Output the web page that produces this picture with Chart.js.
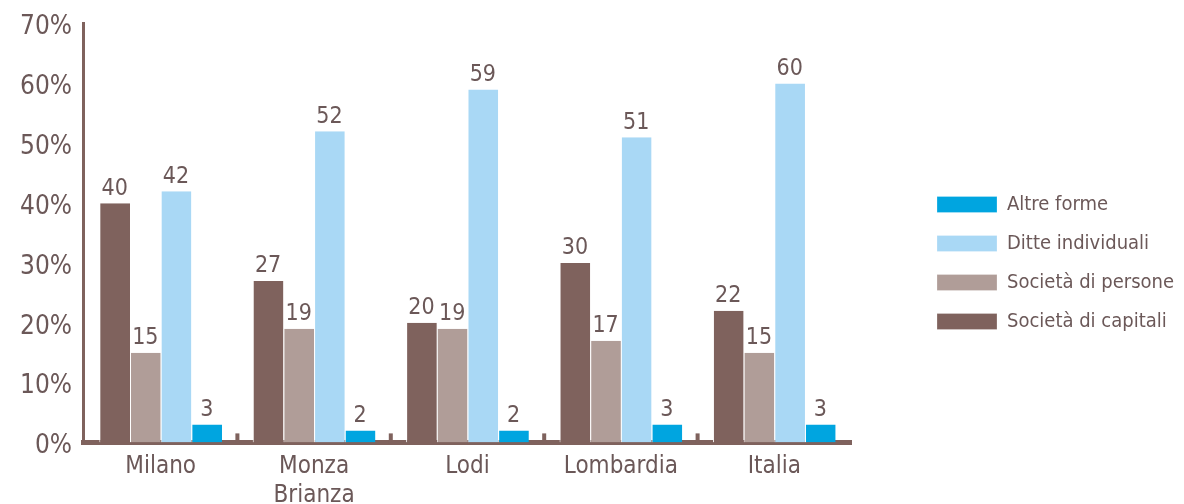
<!DOCTYPE html>
<html>
<head>
<meta charset="utf-8">
<script src="https://cdn.jsdelivr.net/npm/chart.js@4/dist/chart.umd.min.js"></script>
<style>
  html, body { margin: 0; padding: 0; background: #fff; overflow: hidden; }
  #wrap { width: 1184px; height: 504px; position: relative; }
</style>
</head>
<body>
<div id="wrap"><canvas id="myChart"></canvas></div>
<script>
'use strict'
// data
var categories = ['Milano', ['Monza', 'Brianza'], 'Lodi', 'Lombardia', 'Italia'];
var seriesNames = ['Società di capitali', 'Società di persone', 'Ditte individuali', 'Altre forme'];
var capitali = [40, 27, 20, 30, 22];
var persone = [15, 19, 19, 17, 15];
var ditte = [42, 52, 59, 51, 60];
var altre = [3, 2, 2, 3, 3];
var yTicks = [0, 10, 20, 30, 40, 50, 60, 70];

var textColor = '#6b5858';
var axisColor = '#7f625d';
var fontFamily = "'DejaVu Sans Condensed', 'Liberation Sans Narrow', sans-serif";

// draws the number above each bar
var valueLabels = {
    id: 'valueLabels',
    afterDatasetsDraw: function (chart) {
        var ctx = chart.ctx;
        ctx.save();
        ctx.font = '23px ' + fontFamily;
        ctx.fillStyle = textColor;
        ctx.textAlign = 'center';
        ctx.textBaseline = 'bottom';
        chart.data.datasets.forEach(function (ds, di) {
            var meta = chart.getDatasetMeta(di);
            meta.data.forEach(function (bar, i) {
                ctx.fillText(ds.data[i], bar.x, bar.y - 3);
            });
        });
        ctx.restore();
    }
};

// small upward marks between the categories
var groupTicks = {
    id: 'groupTicks',
    afterDraw: function (chart) {
        var ctx = chart.ctx;
        var x = chart.scales.x;
        var bottom = chart.chartArea.bottom;
        ctx.save();
        ctx.fillStyle = axisColor;
        for (var i = 0; i < categories.length - 1; i++) {
            var px = (x.getPixelForValue(i) + x.getPixelForValue(i + 1)) / 2;
            ctx.fillRect(px - 2, bottom - 9, 4, 10);
        }
        ctx.restore();
    }
};

// fixed legend width so the boxes sit where they do in the picture
var legendWidth = {
    id: 'legendWidth',
    beforeInit: function (chart) {
        var fit = chart.legend.fit;
        chart.legend.fit = function () {
            fit.bind(chart.legend)();
            this.width = 266;
        };
    }
};

var ctx = document.getElementById('myChart').getContext('2d');
var chart = new Chart(ctx, {
    type: 'bar',
    data: {
        labels: categories,
        datasets: [{
            label: seriesNames[0],
            backgroundColor: '#7f625d',
            data: capitali
        }, {
            label: seriesNames[1],
            backgroundColor: '#b09d98',
            data: persone
        }, {
            label: seriesNames[2],
            backgroundColor: '#a9d8f5',
            data: ditte
        }, {
            label: seriesNames[3],
            backgroundColor: '#00a5e0',
            data: altre
        }]
    },
    options: {
        responsive: true,
        maintainAspectRatio: false,
        animation: false,
        datasets: {
            bar: {
                categoryPercentage: 0.8,
                barPercentage: 1.0,
                borderColor: '#ffffff',
                borderWidth: { left: 1, right: 0, top: 0, bottom: 0 },
                borderSkipped: false
            }
        },
        layout: { padding: { top: 6, left: 8, right: 0, bottom: -16 } },
        plugins: {
            legend: {
                position: 'right',
                reverse: true,
                labels: {
                    boxWidth: 60,
                    boxHeight: 16,
                    padding: 19,
                    color: textColor,
                    font: { family: fontFamily, size: 20 }
                }
            },
            tooltip: { enabled: false }
        },
        scales: {
            x: {
                grid: { display: false, drawTicks: false },
                border: { display: true, color: axisColor, width: 5 },
                ticks: {
                    color: textColor,
                    padding: 10,
                    font: { family: fontFamily, size: 24 },
                    maxRotation: 0
                }
            },
            y: {
                min: 0,
                max: 70,
                afterBuildTicks: function (scale) {
                    scale.ticks = yTicks.map(function (v) { return { value: v }; });
                },
                grid: { display: false, drawTicks: false },
                border: { display: true, color: axisColor, width: 3 },
                ticks: {
                    color: textColor,
                    padding: 12,
                    labelOffset: 4,
                    font: { family: fontFamily, size: 26, lineHeight: 0.9 },
                    callback: function (v) { return v + '%'; }
                }
            },
            gap: {
                position: 'right',
                display: true,
                grid: { display: false, drawTicks: false },
                border: { display: false },
                ticks: { display: false },
                afterFit: function (scale) { scale.width = 67; }
            }
        }
    },
    plugins: [valueLabels, groupTicks, legendWidth]
});
</script>
</body>
</html>
